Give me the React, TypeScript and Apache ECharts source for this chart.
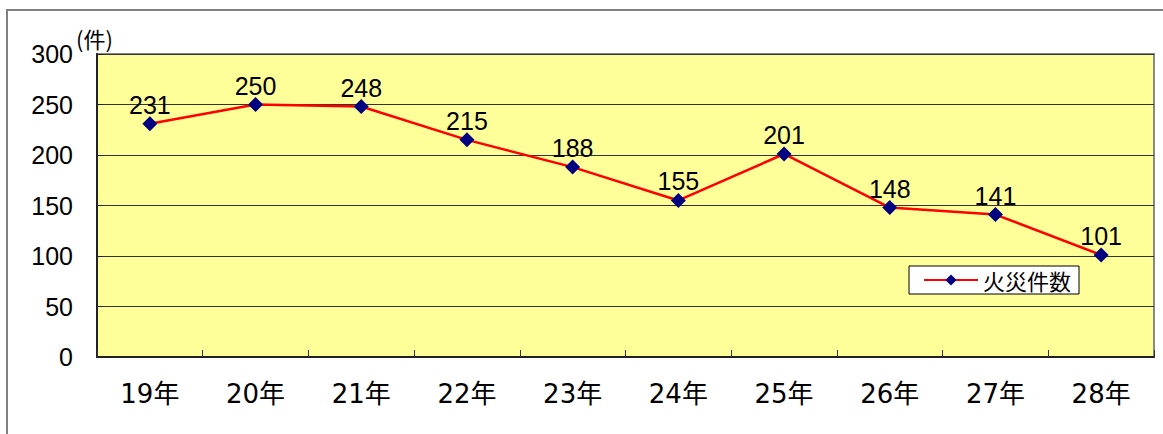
import React, { useEffect, useRef } from "react";
import * as echarts from "echarts";

const categories = ["19年", "20年", "21年", "22年", "23年", "24年", "25年", "26年", "27年", "28年"];
const fireCounts = [231, 250, 248, 215, 188, 155, 201, 148, 141, 101];
const seriesName = "火災件数";
const unitLabel = "(件)";
const yMin = 0;
const yMax = 300;
const yInterval = 50;

export default function App() {
  const ref = useRef<HTMLDivElement>(null);
  useEffect(() => {
    document.body.style.margin = "0";
    const chart = echarts.init(ref.current!, null, { renderer: "svg" });
    const num = "'Liberation Sans', Arial, sans-serif";
    const jp = "'Noto Sans CJK JP', sans-serif";
    const cat = "'DejaVu Sans', 'Noto Sans CJK JP', sans-serif";
    chart.setOption({
      animation: false,
      backgroundColor: "#ffffff",
      grid: {
        left: 97,
        right: 9,
        top: 54,
        bottom: 77,
        show: true,
        backgroundColor: "#FFFF99",
        borderColor: "#888888",
        borderWidth: 2,
      },
      graphic: [
        {
          type: "rect",
          shape: { x: 7, y: 10, width: 1300, height: 600 },
          style: { fill: "none", stroke: "#808080", lineWidth: 2 },
          silent: true,
        },
        {
          type: "text",
          x: 76,
          y: 27,
          style: { text: unitLabel, font: `22px ${jp}`, fill: "#000" },
        },
      ],
      legend: {
        show: true,
        left: 909,
        top: 266,
        orient: "horizontal",
        backgroundColor: "#ffffff",
        borderColor: "#000000",
        borderWidth: 1,
        borderRadius: 0,
        padding: [3, 8, 3, 14],
        itemWidth: 54,
        itemHeight: 14,
        itemGap: 6,
        textStyle: { fontFamily: jp, fontSize: 22, color: "#000" },
        data: [seriesName],
      },
      xAxis: {
        type: "category",
        data: categories,
        boundaryGap: true,
        axisLine: { show: true, lineStyle: { color: "#222", width: 2 } },
        axisTick: { show: true, inside: true, length: 7, lineStyle: { color: "#333" } },
        axisLabel: { fontFamily: cat, fontSize: 26, color: "#000", margin: 24 },
        splitLine: { show: false },
      },
      yAxis: {
        type: "value",
        min: yMin,
        max: yMax,
        interval: yInterval,
        axisLine: { show: true, lineStyle: { color: "#222", width: 2 } },
        axisTick: { show: true, inside: true, length: 6, lineStyle: { color: "#222" } },
        axisLabel: { fontFamily: num, fontSize: 25, color: "#000", margin: 24 },
        splitLine: { show: true, lineStyle: { color: "#333", width: 1 } },
      },
      series: [
        {
          name: seriesName,
          type: "line",
          data: fireCounts,
          symbol: "diamond",
          symbolSize: 15,
          itemStyle: { color: "#000080" },
          lineStyle: { color: "#FF0000", width: 2.5 },
          label: {
            show: true,
            position: "top",
            distance: -1,
            fontFamily: num,
            fontSize: 25,
            color: "#000",
          },
        },
      ],
    });
    return () => chart.dispose();
  }, []);
  return <div ref={ref} style={{ width: 1163, height: 434 }} />;
}
